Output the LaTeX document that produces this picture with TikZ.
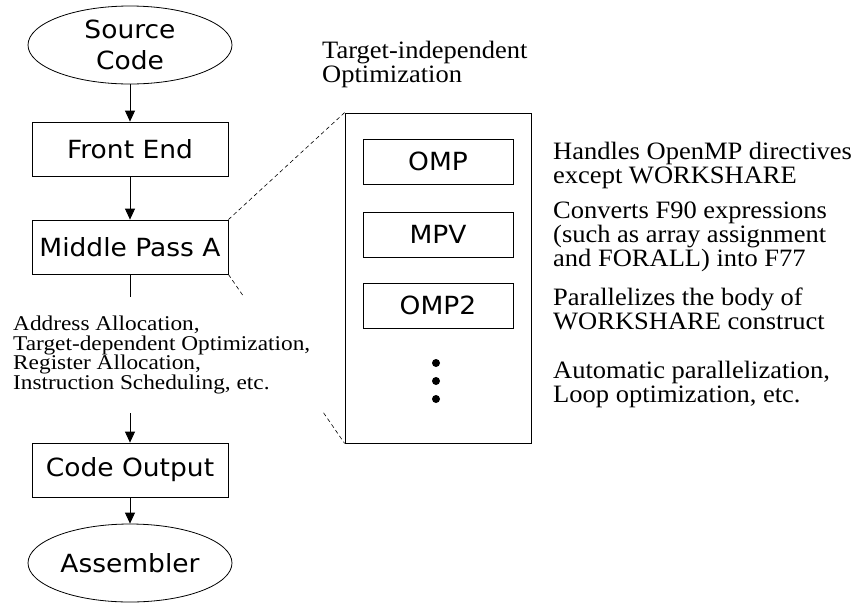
\documentclass[tikz,border=0pt]{standalone}
\usepackage{fontspec}
\setmainfont{Liberation Serif}
\newfontfamily\verdana[FakeStretch=1.06]{DejaVu Sans}
\newfontfamily\passnotes[FakeStretch=1.11]{Liberation Serif}
\newfontfamily\optnotes[FakeStretch=1.06]{Liberation Serif}
\usetikzlibrary{shapes.geometric,arrows.meta}

\tikzset{
  sansfont/.style={font=\verdana\fontsize{25}{31}\selectfont},
  notefont/.style={font=\optnotes\fontsize{25}{24}\selectfont},
}

\begin{document}
\begin{tikzpicture}[x=1pt,y=-1pt]
\tikzstyle{terminal} = [draw, ellipse, line width=0.8pt, minimum width=204pt, minimum height=78pt, inner sep=0pt, sansfont, align=center]
\tikzstyle{passbox} = [draw, line width=0.8pt, minimum width=196pt, minimum height=54pt, inner sep=0pt, sansfont]
\tikzstyle{subpass} = [draw, line width=0.8pt, minimum width=150pt, minimum height=45pt, inner sep=0pt, sansfont]
\tikzstyle{note} = [anchor=north west, inner sep=0pt, align=left, notefont]
\tikzstyle{flow} = [-{Triangle[length=11pt,width=10pt]}, line width=0.8pt]
\useasboundingbox (0,0) rectangle (856,603);
% main pipeline
\node[terminal] (src) at (130,45) {Source\\Code};
\node[passbox] (fe) at (130,149) {Front End};
\node[passbox] (mpa) at (130,247) {Middle Pass A};
\node[passbox] (co) at (130,470) {Code Output};
\node[terminal] (asm) at (130,563) {Assembler};
% zoomed view of the middle pass
\node[draw, line width=0.8pt, minimum width=186pt, minimum height=330pt, inner sep=0pt] (opt) at (438,278) {};
\node[subpass] (omp) at (438,161.5) {OMP};
\node[subpass] (mpv) at (438,234.5) {MPV};
\node[subpass] (omp2) at (438,305.5) {OMP2};
\foreach \y in {363,381,399} \fill (436,\y) circle (4pt);
\draw[dashed, dash pattern=on 4pt off 3pt, line width=0.6pt] (mpa.north east) -- (opt.north west);
\draw[dashed, dash pattern=on 4pt off 3pt, line width=0.6pt] (mpa.south east) -- (opt.south west);
\node[anchor=west, fill=white, inner xsep=13pt, inner ysep=19pt, align=left,
  font=\passnotes\fontsize{21}{19.7}\selectfont] (backend) at (0,355)
  {Address Allocation,\\Target-dependent Optimization,\\Register Allocation,\\Instruction Scheduling, etc.};
\draw[flow] (src) -- (fe);
\draw[flow] (fe) -- (mpa);
\draw[line width=0.8pt] (mpa.south) -- (mpa.south |- backend.north);
\draw[flow] (co.north |- backend.south) -- (co.north);
\draw[flow] (co) -- (asm);
% descriptions
\node[note] (title) at (322,41) {Target-independent\\Optimization};
\node[note] (ompnote) at (553,142) {Handles OpenMP directives\\except WORKSHARE};
\node[note] (mpvnote) at (553,202) {Converts F90 expressions\\(such as array assignment\\and FORALL) into F77};
\node[note] (omp2note) at (553,288) {Parallelizes the body of\\WORKSHARE construct};
\node[note] (restnote) at (553,361) {Automatic parallelization,\\Loop optimization, etc.};
\end{tikzpicture}
\end{document}
